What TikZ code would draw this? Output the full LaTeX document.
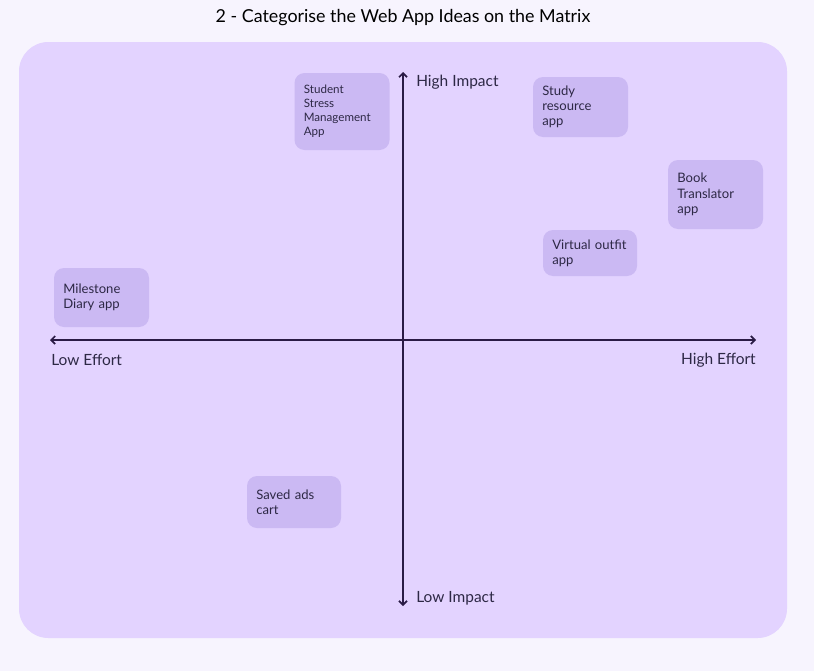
\documentclass[tikz,border=0pt]{standalone}
\usepackage{fontspec}
\setmainfont{Lato}
\usetikzlibrary{arrows.meta}
\definecolor{pagebg}{HTML}{F7F4FE}
\definecolor{framebg}{HTML}{E3D3FF}
\definecolor{notebg}{HTML}{CBB9F3}
\definecolor{axiscol}{HTML}{2A1B45}
\definecolor{txtcol}{HTML}{2D2845}
\tikzset{
  note/.style={draw=none, fill=notebg, rounded corners=7.5pt, inner xsep=7pt, inner ysep=0pt,
    align=left, text=txtcol, font=\fontsize{9.8pt}{11.4pt}\selectfont},
  axis/.style={draw=axiscol, line width=1.5pt, {Straight Barb[length=3pt,width=6pt,line width=1.3pt]}-{Straight Barb[length=3pt,width=6pt,line width=1.3pt]}},
  axlabel/.style={text=txtcol, inner sep=0pt, font=\fontsize{11.6pt}{13pt}\selectfont}
}
\begin{document}
\begin{tikzpicture}[x=0.75pt,y=-0.75pt]
\useasboundingbox[fill=pagebg] (0,0) rectangle (814,671);
\node[text=black, inner sep=0pt, font=\fontsize{13.4pt}{15pt}\selectfont] (title) at (403,18) {2 - Categorise the Web App Ideas on the Matrix};
\fill[framebg, rounded corners=22pt] (19,42) rectangle (787,638);
% axes
\coordinate (top) at (403,72);
\coordinate (bottom) at (403,606);
\coordinate (left) at (50,340);
\coordinate (right) at (756,340);
\draw[axis] (bottom) -- (top);
\draw[axis] (left) -- (right);
\node[axlabel, anchor=west] (hiimp) at (416,82) {High Impact};
\node[axlabel, anchor=west] (loimp) at (416,598) {Low Impact};
\node[axlabel, anchor=west] (loeff) at (51,360) {Low Effort};
\node[axlabel, anchor=east] (hieff) at (756,360) {High Effort};
% notes
\node[note, minimum width=71.25pt, minimum height=57.75pt, text width=57.25pt,
  font=\fontsize{8.7pt}{10.5pt}\selectfont] (stress) at (342,111.5) {Student\\Stress\\Management\\App};
\node[note, minimum width=71.25pt, minimum height=45pt, text width=57.25pt] (study) at (580.5,107) {Study\\resource\\app};
\node[note, minimum width=71.25pt, minimum height=51.75pt, text width=57.25pt] (book) at (715.5,194.5) {Book\\Translator\\app};
\node[note, minimum width=70.5pt, minimum height=34.5pt, text width=56.5pt] (virtual) at (590,253) {Virtual outfit\\app};
\node[note, minimum width=71.25pt, minimum height=44.25pt, text width=57.25pt] (milestone) at (101.5,297.5) {Milestone\\Diary app\\[2pt]};
\node[note, minimum width=70.5pt, minimum height=39pt, text width=56.5pt] (saved) at (294,502) {Saved ads\\cart\\[-2pt]};
\end{tikzpicture}
\end{document}
